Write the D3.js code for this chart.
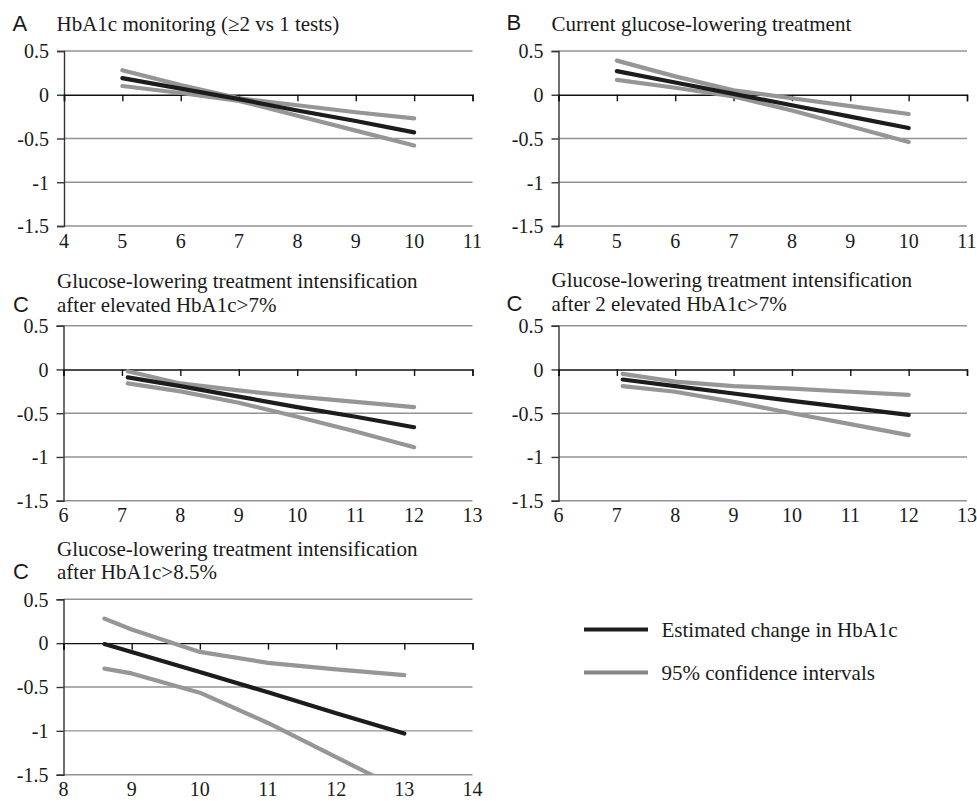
<!DOCTYPE html>
<html>
<head>
<meta charset="utf-8">
<script src="https://cdn.jsdelivr.net/npm/d3@7"></script>
<style>
  html, body { margin: 0; padding: 0; background: #fff; }
  svg { display: block; }
</style>
</head>
<body>
<svg id="chart" width="977" height="801"></svg>
<script>
// ---------------- DATA ----------------
const yTicks = [0.5, 0, -0.5, -1, -1.5];

// Panel A: HbA1c monitoring
const aX     = [5, 6, 7, 8, 9, 10];
const aEst   = [0.19, 0.07, -0.05, -0.18, -0.30, -0.43];
const aUpper = [0.28, 0.11, -0.04, -0.12, -0.20, -0.27];
const aLower = [0.10, 0.02, -0.07, -0.24, -0.41, -0.58];
const aXTicks = [4, 5, 6, 7, 8, 9, 10, 11];

// Panel B: Current glucose-lowering treatment
const bX     = [5, 6, 7, 8, 9, 10];
const bEst   = [0.27, 0.14, 0.01, -0.12, -0.25, -0.38];
const bUpper = [0.39, 0.21, 0.05, -0.04, -0.13, -0.22];
const bLower = [0.17, 0.08, -0.02, -0.18, -0.36, -0.54];
const bXTicks = [4, 5, 6, 7, 8, 9, 10, 11];

// Panel C1: intensification after elevated HbA1c>7%
const c1X     = [7.1, 8, 9, 10, 11, 12];
const c1Est   = [-0.09, -0.19, -0.31, -0.43, -0.54, -0.66];
const c1Upper = [-0.02, -0.16, -0.24, -0.31, -0.37, -0.43];
const c1Lower = [-0.16, -0.25, -0.38, -0.54, -0.71, -0.89];
const c1XTicks = [6, 7, 8, 9, 10, 11, 12, 13];

// Panel C2: intensification after 2 elevated HbA1c>7%
const c2X     = [7.1, 8, 9, 10, 11, 12];
const c2Est   = [-0.115, -0.19, -0.275, -0.36, -0.44, -0.52];
const c2Upper = [-0.05, -0.14, -0.19, -0.22, -0.255, -0.29];
const c2Lower = [-0.19, -0.255, -0.37, -0.50, -0.625, -0.75];
const c2XTicks = [6, 7, 8, 9, 10, 11, 12, 13];

// Panel C3: intensification after HbA1c>8.5%
const c3X     = [8.6, 9, 10, 11, 12, 13];
const c3Est   = [-0.01, -0.10, -0.33, -0.56, -0.80, -1.03];
const c3Upper = [0.28, 0.155, -0.10, -0.225, -0.30, -0.365];
const c3Lower = [-0.29, -0.345, -0.565, -0.91, -1.30, -1.69];
const c3XTicks = [8, 9, 10, 11, 12, 13, 14];

const legendLabels = ["Estimated change in HbA1c", "95% confidence intervals"];

// ---------------- STYLE ----------------
const SERIF = "'Liberation Serif', 'Times New Roman', serif";
const SANS = "'Liberation Sans', Arial, sans-serif";
const TXT = "#1a1a1a";
const COL_EST = "#1c1c1c";
const COL_CI = "#969696";
const COL_GRID = "#939393";
const COL_AXIS = "#333";

const svg = d3.select("#chart");

const panels = [
  { id: "A", letter: "A", title: ["HbA1c monitoring (\u22652 vs 1 tests)"], x: aX, est: aEst, up: aUpper, lo: aLower, xt: aXTicks,
    box: { l: 64, r: 472.5, t: 51, b: 226 }, letterPos: [12.5, 30.5], titlePos: [56.5, 31] },
  { id: "B", letter: "B", title: ["Current glucose-lowering treatment"], x: bX, est: bEst, up: bUpper, lo: bLower, xt: bXTicks,
    box: { l: 558.5, r: 967, t: 51, b: 226 }, letterPos: [506.5, 30], titlePos: [551.5, 31] },
  { id: "C1", letter: "C", title: ["Glucose-lowering treatment intensification", "after elevated HbA1c>7%"], x: c1X, est: c1Est, up: c1Upper, lo: c1Lower, xt: c1XTicks,
    box: { l: 63.5, r: 472.5, t: 325.7, b: 500.7 }, letterPos: [13, 311.5], titlePos: [57, 311.7] },
  { id: "C2", letter: "C", title: ["Glucose-lowering treatment intensification", "after 2 elevated HbA1c>7%"], x: c2X, est: c2Est, up: c2Upper, lo: c2Lower, xt: c2XTicks,
    box: { l: 558.5, r: 967, t: 325.7, b: 500.7 }, letterPos: [506.5, 310.5], titlePos: [551.5, 310.7] },
  { id: "C3", letter: "C", title: ["Glucose-lowering treatment intensification", "after HbA1c>8.5%"], x: c3X, est: c3Est, up: c3Upper, lo: c3Lower, xt: c3XTicks,
    box: { l: 63.5, r: 472.5, t: 599.3, b: 774.7 }, letterPos: [13, 578.5], titlePos: [57, 579] },
];
// titlePos y = baseline of the LAST title line; earlier lines are stacked above it
const TITLE_LINE_GAP = 23.5;

panels.forEach(p => {
  const b = p.box;
  const x = d3.scaleLinear().domain([p.xt[0], p.xt[p.xt.length - 1]]).range([b.l, b.r]);
  const y = d3.scaleLinear().domain([-1.5, 0.5]).range([b.b, b.t]);
  const g = svg.append("g");

  svg.append("clipPath").attr("id", "clip-" + p.id)
    .append("rect").attr("x", b.l).attr("y", b.t - 10).attr("width", b.r - b.l).attr("height", b.b - b.t + 10);

  // gridlines (non-zero)
  g.selectAll(".grid").data(yTicks.filter(v => v !== 0)).enter().append("line")
    .attr("x1", b.l).attr("x2", b.r)
    .attr("y1", d => y(d)).attr("y2", d => y(d))
    .attr("stroke", COL_GRID).attr("stroke-width", 1.4);

  // y axis
  const yAxis = d3.axisLeft(y).tickValues(yTicks).tickSize(7).tickPadding(8)
    .tickFormat(d => String(d));
  const ya = g.append("g").attr("transform", `translate(${b.l},0)`).call(yAxis);
  ya.attr("font-size", 20).attr("font-family", SERIF);
  ya.select(".domain").attr("stroke", COL_AXIS).attr("stroke-width", 1.4);
  ya.selectAll(".tick line").attr("stroke", COL_AXIS).attr("stroke-width", 1.4);
  ya.selectAll(".tick text").attr("fill", TXT).attr("dy", "0.34em");

  // x axis along zero line with ticks pointing down
  const xAxis = d3.axisBottom(x).tickValues(p.xt).tickSize(6.5).tickFormat("");
  const xa = g.append("g").attr("transform", `translate(0,${y(0)})`).call(xAxis);
  xa.select(".domain").attr("stroke", "#111").attr("stroke-width", 1.4);
  xa.selectAll(".tick line").attr("stroke", "#111").attr("stroke-width", 1.4);

  // x tick labels at bottom
  g.selectAll(".xlab").data(p.xt).enter().append("text")
    .attr("font-family", SERIF).attr("font-size", 20).attr("fill", TXT)
    .attr("x", d => x(d)).attr("y", b.b + 21.5)
    .attr("text-anchor", "middle")
    .text(d => d);

  // lines
  const line = d3.line().x(d => x(d[0])).y(d => y(d[1]));
  const series = [
    { vals: p.up, col: COL_CI },
    { vals: p.lo, col: COL_CI },
    { vals: p.est, col: COL_EST },
  ];
  const lg = g.append("g").attr("clip-path", `url(#clip-${p.id})`);
  series.forEach(s => {
    lg.append("path")
      .datum(p.x.map((xv, i) => [xv, s.vals[i]]))
      .attr("d", line)
      .attr("fill", "none")
      .attr("stroke", s.col)
      .attr("stroke-width", 4.2)
      .attr("stroke-linejoin", "round")
      .attr("stroke-linecap", "round");
  });

  // panel letter
  g.append("text").attr("font-family", SANS).attr("font-size", 22).attr("fill", TXT)
    .attr("x", p.letterPos[0]).attr("y", p.letterPos[1]).text(p.letter);

  // title lines
  const n = p.title.length;
  p.title.forEach((t, i) => {
    g.append("text").attr("font-family", SERIF).attr("font-size", 21).attr("fill", TXT)
      .attr("x", p.titlePos[0])
      .attr("y", p.titlePos[1] - (n - 1 - i) * TITLE_LINE_GAP)
      .text(t);
  });
});

// legend
const legend = svg.append("g");
const legendCols = [COL_EST, "#858585"];
legendLabels.forEach((lab, i) => {
  const yy = 629.5 + i * 43;
  legend.append("line").attr("x1", 584).attr("x2", 648).attr("y1", yy).attr("y2", yy)
    .attr("stroke", legendCols[i]).attr("stroke-width", 4.2);
  legend.append("text").attr("font-family", SERIF).attr("font-size", 21).attr("fill", TXT)
    .attr("x", 661.5).attr("y", yy + 7).text(lab);
});
</script>
</body>
</html>
